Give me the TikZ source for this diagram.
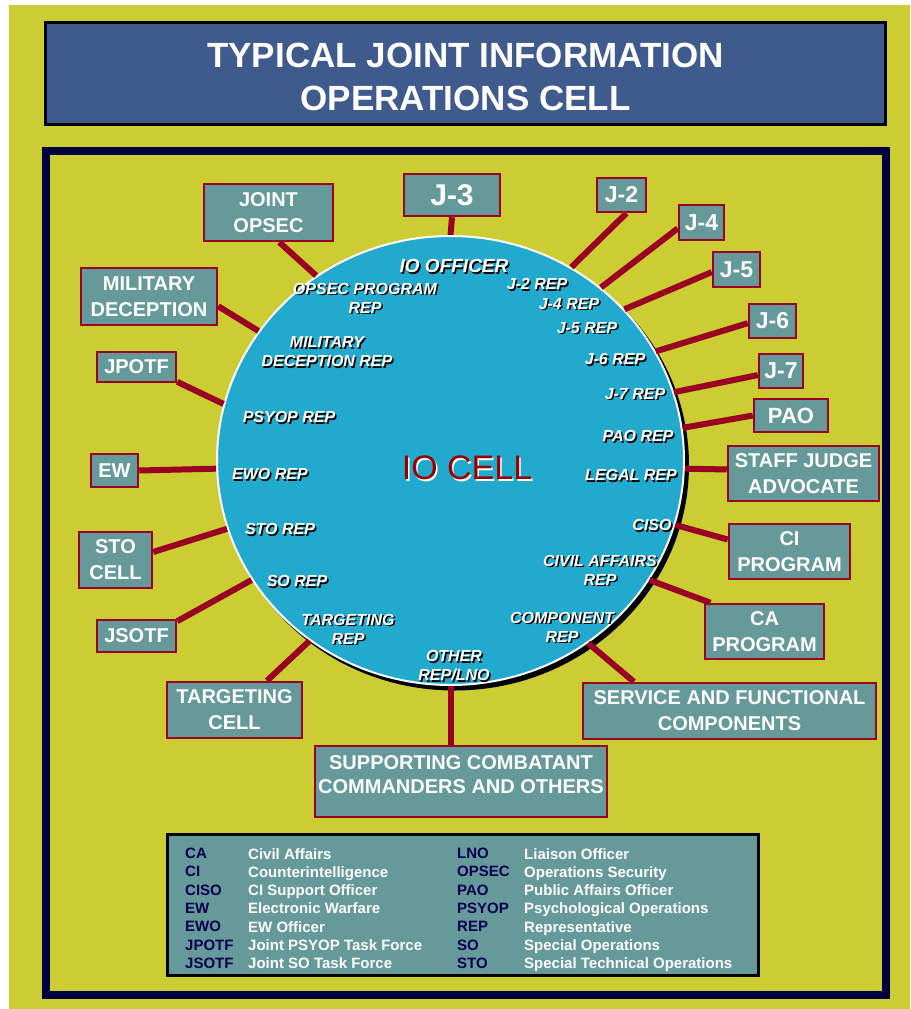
\documentclass[tikz,border=0pt]{standalone}
\usepackage{fontspec}
\setmainfont{Liberation Sans}
\usetikzlibrary{shapes.geometric}

\definecolor{bgyellow}{RGB}{204,204,51}
\definecolor{titleblue}{RGB}{63,90,140}
\definecolor{framenavy}{RGB}{0,0,64}
\definecolor{unitteal}{RGB}{102,153,153}
\definecolor{unitred}{RGB}{153,0,34}
\definecolor{cellblue}{RGB}{33,170,206}
\definecolor{cellred}{RGB}{153,0,0}
\definecolor{legendnavy}{RGB}{0,0,80}

\tikzset{
  unit/.style={draw=unitred, line width=2.5pt, fill=unitteal, text=white,
    font=\bfseries\fontsize{20}{26}\selectfont, align=center, inner sep=0pt},
  jbox/.style={unit, font=\bfseries\fontsize{23}{26}\selectfont},
  link/.style={draw=unitred, line width=6pt},
  reptext/.style={text=white, font=\bfseries\itshape\fontsize{16}{19}\selectfont,
    align=center, inner sep=0pt},
  legtext/.style={font=\bfseries\fontsize{15}{18.3}\selectfont, align=left,
    inner sep=0pt, anchor=north west},
}

% label inside the cell, with its black drop shadow
\newcommand\replabel[4][]{%
  \node[reptext, #1, text=black, xshift=1.5pt, yshift=-1.5pt] at (#2) {#4};
  \node[reptext, #1] (#3) at (#2) {#4};}

\begin{document}
\begin{tikzpicture}[x=1pt, y=-1pt]
    \useasboundingbox (0,0) rectangle (910,1009);
    \fill[white] (0,0) rectangle (910,1009);
    \fill[bgyellow] (9,5) rectangle (910,1009);

    % Title
    \node[draw=black, line width=3pt, fill=titleblue, minimum width=840, minimum height=102]
          (title) at (465.5,73.5) {};
    \node[text=white, align=center, font=\bfseries\fontsize{35}{43}\selectfont]
          (titletext) at ([yshift=-3pt]title.center) {TYPICAL JOINT INFORMATION\\OPERATIONS CELL};

    % Frame
    \draw[framenavy, line width=8pt] (45.5,151) rectangle (886,995);

    % IO cell
    \fill[black] (454.5,465) ellipse [x radius=234.5, y radius=225.5];
    \node[ellipse, fill=cellblue, draw=white, line width=2pt, inner sep=0pt,
          minimum width=467, minimum height=449] (cell) at (450.5,460.5) {};

    \node[text=white, font=\fontsize{34}{40}\selectfont, xshift=1.5pt, yshift=-2pt]
          at (467,468) {IO CELL};
    \node[text=cellred, font=\fontsize{34}{40}\selectfont] (iocell) at (467,468) {IO CELL};

    \replabel[font=\bfseries\itshape\fontsize{19}{22}\selectfont]{454,266}{iooff}{IO OFFICER}
    \replabel{365,298}{opsecrep}{OPSEC PROGRAM\\REP}
    \replabel{327,352}{mdrep}{MILITARY\\DECEPTION REP}
    \replabel{289,417}{psyrep}{PSYOP REP}
    \replabel{270,474}{eworep}{EWO REP}
    \replabel{280,529}{storep}{STO REP}
    \replabel{297,581}{sorep}{SO REP}
    \replabel{348,629}{tgtrep}{TARGETING\\REP}
    \replabel{454,666}{otherrep}{OTHER\\REP/LNO}
    \replabel{537,284}{jtworep}{J-2 REP}
    \replabel{569,304}{jfourrep}{J-4 REP}
    \replabel{587,328}{jfiverep}{J-5 REP}
    \replabel{615,359}{jsixrep}{J-6 REP}
    \replabel{635,394}{jsevenrep}{J-7 REP}
    \replabel{638,436}{paorep}{PAO REP}
    \replabel{631,475}{legalrep}{LEGAL REP}
    \replabel{652,525}{cisorep}{CISO}
    \replabel{600,570}{carep}{CIVIL AFFAIRS\\REP}
    \replabel{562,627}{comprep}{COMPONENT\\REP}

    % Staff elements round the cell
    \node[unit, minimum width=129, minimum height=57] (jointopsec) at (268.5,212.5) {JOINT\\OPSEC};
    \node[unit, minimum width=96, minimum height=42, font=\bfseries\fontsize{30}{32}\selectfont] (jthree) at (452,195) {J-3};
    \node[jbox, minimum width=49, minimum height=34] (jtwo) at (621.5,195) {J-2};
    \node[jbox, minimum width=45, minimum height=35] (jfour) at (701.5,222.5) {J-4};
    \node[jbox, minimum width=47, minimum height=35] (jfive) at (736.5,269.5) {J-5};
    \node[jbox, minimum width=47, minimum height=34] (jsix) at (772.5,321) {J-6};
    \node[jbox, minimum width=44, minimum height=34] (jseven) at (781,371) {J-7};
    \node[unit, minimum width=74, minimum height=33, font=\bfseries\fontsize{22}{26}\selectfont] (pao) at (791,415.5) {PAO};
    \node[unit, minimum width=151, minimum height=55] (sja) at (803.5,473.5) {STAFF JUDGE\\ADVOCATE};
    \node[unit, minimum width=121, minimum height=55] (ciprog) at (789.5,551.5) {CI\\PROGRAM};
    \node[unit, minimum width=119, minimum height=55] (caprog) at (764.5,631.5) {CA\\PROGRAM};
    \node[unit, minimum width=293, minimum height=56] (service) at (729.5,711) {SERVICE AND FUNCTIONAL\\COMPONENTS};
    \node[unit, minimum width=292, minimum height=71] (supporting) at (461,781.5) {};
    \node[text=white, align=center, font=\bfseries\fontsize{20}{24}\selectfont, inner sep=0pt]
          (supportingtext) at ([yshift=7pt]supporting.center) {SUPPORTING COMBATANT\\COMMANDERS AND OTHERS};
    \node[unit, minimum width=135, minimum height=56] (targeting) at (234.5,710) {TARGETING\\CELL};
    \node[unit, minimum width=79, minimum height=32] (jsotf) at (136.5,636) {JSOTF};
    \node[unit, minimum width=73, minimum height=56] (sto) at (115.5,560) {STO\\CELL};
    \node[unit, minimum width=47, minimum height=33] (ew) at (114.5,470.5) {EW};
    \node[unit, minimum width=79, minimum height=30] (jpotf) at (136.5,367) {JPOTF};
    \node[unit, minimum width=136, minimum height=57] (mildec) at (149,296.5) {MILITARY\\DECEPTION};

    % Connectors
    \foreach \src/\dst in {jointopsec.290/cell.126, mildec.352/cell.146, jpotf.340/cell.166,
        ew.east/cell.182, sto.12/cell.197, jsotf.20/cell.211, targeting.42/cell.232,
        service.163/cell.307, caprog.152/cell.329, ciprog.169/cell.344, sja.177/cell.358,
        pao.180/cell.8, jseven.190/cell.17, jsix.185/cell.28, jfive.186/cell.41,
        jfour.194/cell.49, jtwo.285/cell.58, jthree.south/cell.90} {
        \draw[link] (\src) -- (\dst);
    }
    \draw[link] (cell.south) -- (cell.south |- supporting.north);

    % Legend
    \node[draw=black, line width=3pt, fill=unitteal, minimum width=591, minimum height=141]
          (legend) at (463,905) {};
    \node[legtext, text=legendnavy] (abbrleft) at (185,848)
          {CA\\CI\\CISO\\EW\\EWO\\JPOTF\\JSOTF};
    \node[legtext, text=white] (defleft) at (248,848)
          {Civil Affairs\\Counterintelligence\\CI Support Officer\\Electronic Warfare\\EW Officer\\Joint PSYOP Task Force\\Joint SO Task Force};
    \node[legtext, text=legendnavy] (abbrright) at (457,848)
          {LNO\\OPSEC\\PAO\\PSYOP\\REP\\SO\\STO};
    \node[legtext, text=white] (defright) at (524,848)
          {Liaison Officer\\Operations Security\\Public Affairs Officer\\Psychological Operations\\Representative\\Special Operations\\Special Technical Operations};
\end{tikzpicture}
\end{document}
